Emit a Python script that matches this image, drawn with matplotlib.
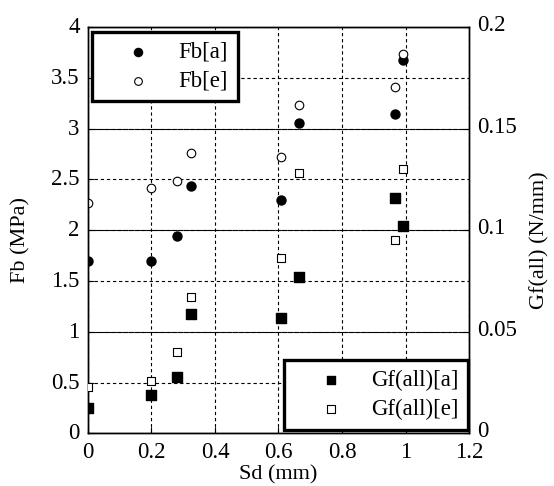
import matplotlib.pyplot as plt
import matplotlib.transforms as mtransforms
import numpy as np

plt.rcParams['font.family'] = ['Liberation Serif', 'DejaVu Serif']

sd = [0, 0.197, 0.28, 0.323, 0.607, 0.666, 0.967, 0.991]
fb_a = [1.70, 1.70, 1.94, 2.43, 2.30, 3.06, 3.14, 3.68]
fb_e = [2.27, 2.42, 2.48, 2.76, 2.72, 3.23, 3.41, 3.73]
gf_a = [0.0123, 0.0187, 0.0277, 0.0587, 0.0566, 0.0768, 0.1158, 0.102]
gf_e = [0.0226, 0.0257, 0.0399, 0.0669, 0.0861, 0.128, 0.0953, 0.130]

fig = plt.figure(figsize=(5.54, 4.86), dpi=100)
ax = fig.add_axes([0.1588, 0.1084, 0.6878, 0.836])
ax2 = ax.twinx()

h1 = ax.scatter(sd, fb_a, s=42, marker='o', color='black', label='Fb[a]', zorder=3)
h2 = ax.scatter(sd, fb_e, s=38, marker='o', facecolor='white', edgecolor='black',
                linewidth=0.8, label='Fb[e]', zorder=3)
h3 = ax2.scatter(sd, gf_a, s=42, marker='s', color='black', label='Gf(all)[a]', zorder=3)
h4 = ax2.scatter(sd, gf_e, s=36, marker='s', facecolor='white', edgecolor='black',
                 linewidth=0.8, label='Gf(all)[e]', zorder=3)

ax.set_xlim(0, 1.2)
ax.set_ylim(0, 4)
ax2.set_ylim(0, 0.2)
ax.set_xticks(np.arange(0, 1.21, 0.2))
ax.set_xticklabels(['0', '0.2', '0.4', '0.6', '0.8', '1', '1.2'])
ax.set_yticks(np.arange(0, 4.01, 0.5))
ax.set_yticklabels(['0', '0.5', '1', '1.5', '2', '2.5', '3', '3.5', '4'])
ax2.set_yticks([0, 0.05, 0.1, 0.15, 0.2])
ax2.set_yticklabels(['0', '0.05', '0.1', '0.15', '0.2'])

ax.grid(True, linestyle=(0, (3, 2.5)), color='black', linewidth=0.8)
ax2.grid(True, axis='y', linestyle=(2.5, (3, 2.5)), color='black', linewidth=0.8)
ax.set_axisbelow(True)

ax.tick_params(direction='in', length=4, labelsize=16.5, pad=6)
ax2.tick_params(direction='in', length=4, labelsize=16.5, pad=6)

# the reference's y tick labels sit a little above their ticks
up2 = mtransforms.ScaledTranslation(0, 2 / 100, fig.dpi_scale_trans)
up4 = mtransforms.ScaledTranslation(0, 4 / 100, fig.dpi_scale_trans)
for lab in ax.get_yticklabels():
    lab.set_transform(lab.get_transform() + up2)
for lab in ax2.get_yticklabels():
    lab.set_transform(lab.get_transform() + up4)

ax.set_xlabel('Sd (mm)', fontsize=16, labelpad=2)
ax.set_ylabel('Fb (MPa)', fontsize=16)
ax2.set_ylabel('Gf(all) (N/mm)', fontsize=16)
ax.yaxis.set_label_coords(-0.15, 0.475)
ax2.yaxis.set_label_coords(1.16, 0.475)

for a in (ax, ax2):
    for sp in a.spines.values():
        sp.set_linewidth(1.0)
        sp.set_color('black')

legend_kw = dict(bbox_transform=fig.transFigure, borderaxespad=0, fontsize=16.5, frameon=True,
                 fancybox=False, edgecolor='black', framealpha=1, handlelength=3.2,
                 handletextpad=0.15, borderpad=0.42, labelspacing=0.35, markerscale=0.9)
leg1 = ax2.legend(handles=[h1, h2], loc='upper left',
                  bbox_to_anchor=(92 / 554, 1 - 32 / 486), **legend_kw)
leg1.get_frame().set_linewidth(2.4)
ax2.add_artist(leg1)
leg2 = ax2.legend(handles=[h3, h4], loc='lower right',
                  bbox_to_anchor=(468 / 554, 1 - 430 / 486), **legend_kw)
leg2.get_frame().set_linewidth(2.4)

fig.savefig('out.png', dpi=100)
